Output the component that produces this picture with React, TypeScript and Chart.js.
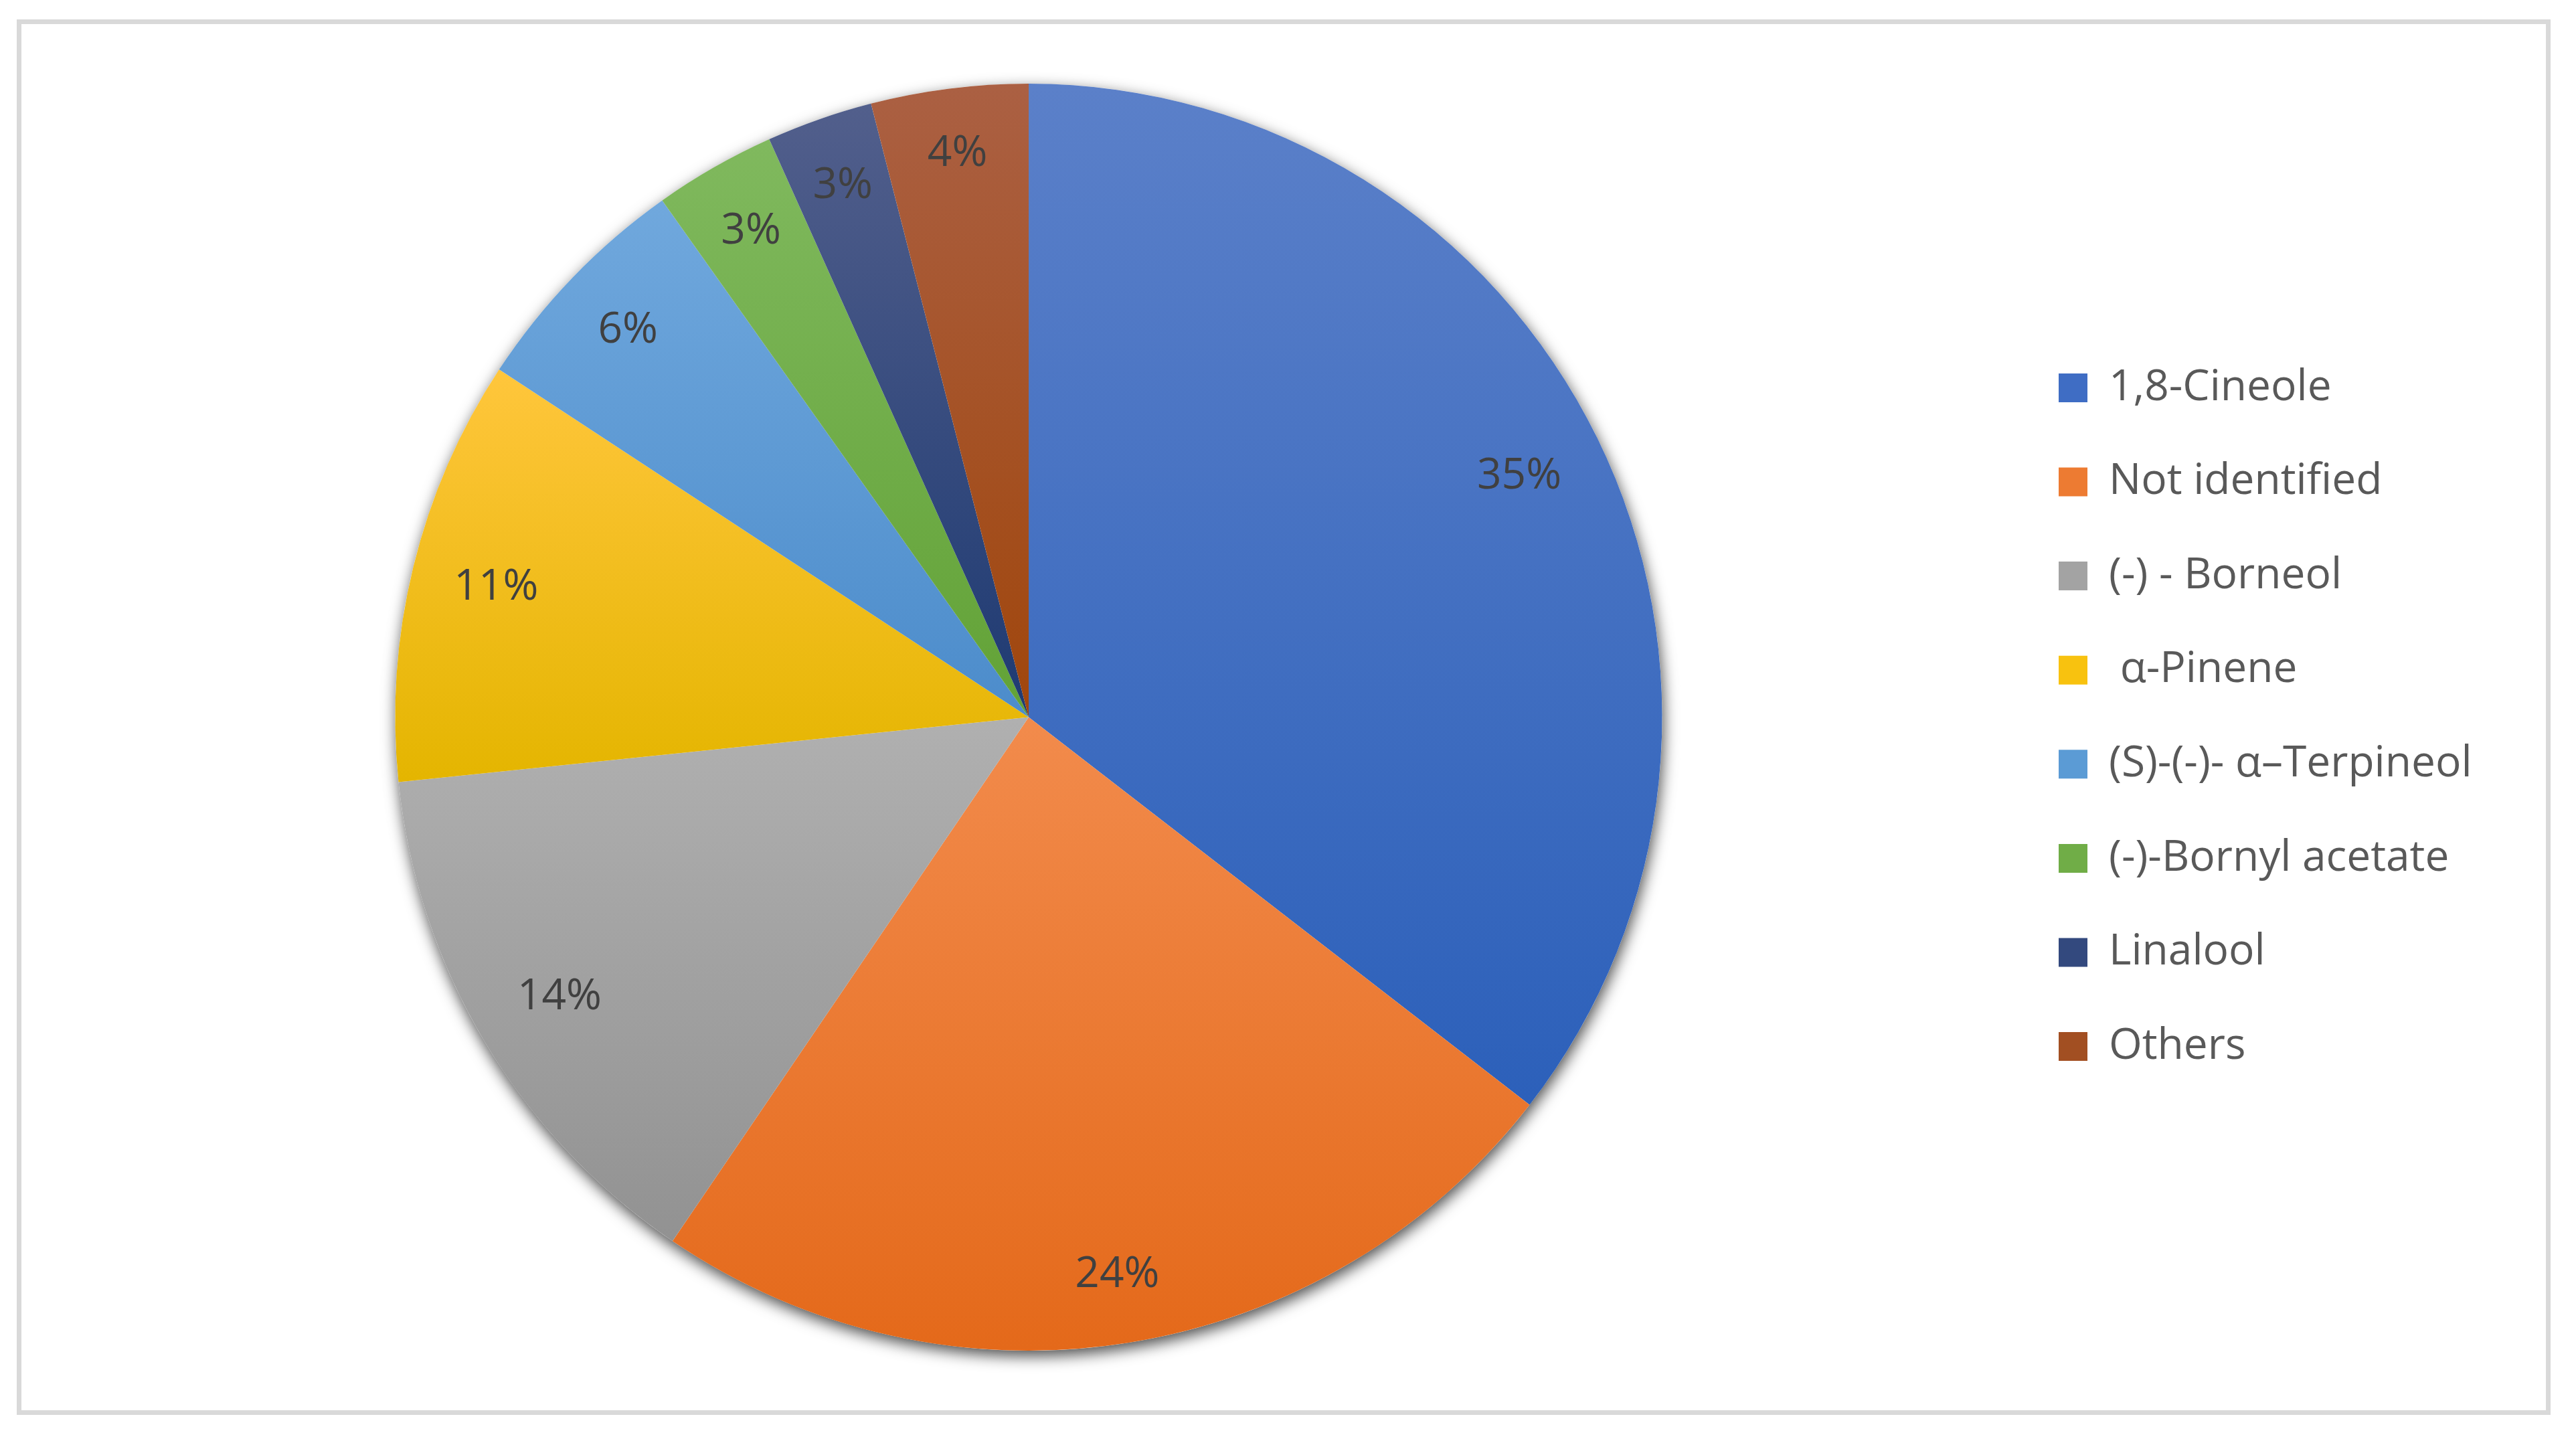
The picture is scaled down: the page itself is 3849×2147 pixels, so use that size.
import React, { useEffect, useRef } from "react";
import { Chart, registerables } from "chart.js";

Chart.register(...registerables);

// ---- data ----
const categories = [
  "1,8-Cineole",
  "Not identified",
  "(-) - Borneol",
  " α-Pinene",
  "(S)-(-)- α–Terpineol",
  "(-)-Bornyl acetate",
  "Linalool",
  "Others",
];
const values = [35.45, 24.0, 13.85, 10.87, 5.93, 3.1, 2.71, 4.0];

// ---- styles ----
const topColors = ["#5B80C9", "#F28B4C", "#B0B0B0", "#FFC63C", "#70A8DD", "#80B95E", "#525F8C", "#AB6043"];
const bottomColors = ["#2C60BA", "#E4691A", "#929292", "#E4B500", "#4C8CCB", "#62A236", "#1E3A72", "#A0460C"];
const legendColors = ["#3F6DC4", "#ED7B32", "#A3A3A3", "#F8C20F", "#5B9BD5", "#70AD47", "#33497E", "#A24F22"];

const FONT = "'Open Sans'";
const CANVAS_W = 3849;
const CANVAS_H = 2147;
const AREA_RIGHT = 2999.4;

function sliceGradient(ctx: any) {
  const i = ctx.dataIndex;
  const chart = ctx.chart;
  const area = chart.chartArea;
  if (ctx.type !== "data" || i === undefined || !area) return legendColors[i ?? 0];
  const data = ctx.dataset.data as number[];
  const total = data.reduce((a, b) => a + b, 0);
  let before = 0;
  for (let k = 0; k < i; k++) before += data[k];
  const a0 = (before / total) * Math.PI * 2;
  const a1 = ((before + data[i]) / total) * Math.PI * 2;
  const cy = (area.top + area.bottom) / 2;
  const r = Math.min(area.right - area.left, area.bottom - area.top) / 2;
  const ys = [cy, cy - r * Math.cos(a0), cy - r * Math.cos(a1)];
  if (a0 < Math.PI && a1 > Math.PI) ys.push(cy + r);
  const top = Math.min(...ys);
  const bottom = Math.max(...ys);
  const g = chart.ctx.createLinearGradient(0, top, 0, bottom);
  g.addColorStop(0, topColors[i]);
  g.addColorStop(1, bottomColors[i]);
  return g;
}

const shadowPlugin = {
  id: "pieShadow",
  beforeDatasetsDraw(chart: any) {
    const arc = chart.getDatasetMeta(0).data[0];
    if (!arc) return;
    const { x, y, outerRadius } = arc.getProps(["x", "y", "outerRadius"], true);
    const c = chart.ctx;
    c.save();
    c.shadowColor = "rgba(0,0,0,0.7)";
    c.shadowBlur = 22;
    c.shadowOffsetX = 2;
    c.shadowOffsetY = 8;
    c.beginPath();
    c.arc(x, y, outerRadius, 0, Math.PI * 2);
    c.fillStyle = "#ffffff";
    c.fill();
    c.restore();
  },
};

const labelPlugin = {
  id: "pctLabels",
  afterDatasetsDraw(chart: any) {
    const meta = chart.getDatasetMeta(0);
    const data = chart.data.datasets[0].data as number[];
    const total = data.reduce((a, b) => a + b, 0);
    const c = chart.ctx;
    c.save();
    c.font = `64px ${FONT}`;
    c.fillStyle = "#404040";
    c.textAlign = "center";
    c.textBaseline = "middle";
    meta.data.forEach((arc: any, i: number) => {
      const p = arc.getProps(["x", "y", "startAngle", "endAngle", "outerRadius"], true);
      const mid = (p.startAngle + p.endAngle) / 2;
      const text = Math.round((data[i] / total) * 100) + "%";
      const hw = c.measureText(text).width / 2;
      const hh = 35;
      const ext = hw * Math.abs(Math.cos(mid)) + hh * Math.abs(Math.sin(mid));
      const d = p.outerRadius - 58 - ext;
      c.fillText(text, p.x + Math.cos(mid) * d, p.y + Math.sin(mid) * d);
    });
    c.restore();
  },
};

export default function App() {
  const ref = useRef<HTMLCanvasElement | null>(null);

  useEffect(() => {
    if (!ref.current) return;
    const chart = new Chart(ref.current, {
      type: "pie",
      data: {
        labels: categories,
        datasets: [
          {
            data: values,
            backgroundColor: sliceGradient as any,
            borderWidth: 0,
          },
        ],
      },
      options: {
        responsive: false,
        animation: false,
        devicePixelRatio: 1,
        layout: {
          padding: { left: 74.6, top: 125, right: 150, bottom: 129 },
        },
        plugins: {
          tooltip: { enabled: false },
          legend: {
            position: "right",
            labels: {
              boxWidth: 43,
              boxHeight: 43,
              padding: 76.6,
              color: "#595959",
              font: { family: FONT, size: 64 },
              generateLabels: (ch: any) => {
                const base = (Chart as any).overrides.doughnut.plugins.legend.labels.generateLabels(ch);
                return base.map((it: any, i: number) => ({
                  ...it,
                  fillStyle: legendColors[i],
                  strokeStyle: legendColors[i],
                  lineWidth: 0,
                  fontColor: "#595959",
                }));
              },
            },
          },
        },
      } as any,
      plugins: [shadowPlugin, labelPlugin],
    });
    // place the pie's area so its right edge sits where the legend begins in the reference
    const lw = (chart as any).legend ? (chart as any).legend.width : 0;
    (chart.options as any).layout.padding.right = Math.max(0, CANVAS_W - AREA_RIGHT - lw);
    chart.update();
    return () => chart.destroy();
  }, []);

  return (
    <div style={{ position: "absolute", left: 0, top: 0, width: CANVAS_W, height: CANVAS_H, background: "#ffffff" }}>
      <div
        style={{
          position: "absolute",
          left: 25,
          top: 29,
          width: 3786,
          height: 2085,
          boxSizing: "border-box",
          border: "7px solid #d9d9d9",
        }}
      />
      <canvas
        ref={ref}
        width={CANVAS_W}
        height={CANVAS_H}
        style={{ position: "absolute", left: 0, top: 0, width: CANVAS_W, height: CANVAS_H }}
      />
    </div>
  );
}
